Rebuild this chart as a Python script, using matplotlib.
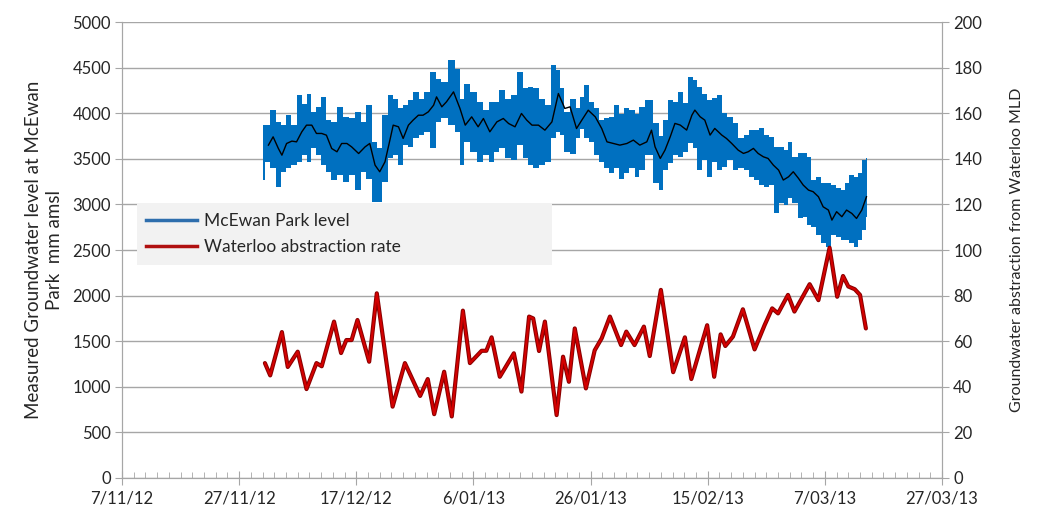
import datetime as dt

import matplotlib
matplotlib.use("Agg")
import matplotlib.pyplot as plt
from matplotlib.lines import Line2D
from matplotlib.ticker import MultipleLocator, FixedLocator

plt.rcParams["font.family"] = ["Lato", "DejaVu Sans"]

START = dt.date(2012, 11, 7)   # day 0 of the x axis

band_day = [24.1, 24.9, 25.8, 26.7, 27.5, 28.4, 29.4, 30.4, 31.2, 31.8, 32.7, 33.5,
            34.5, 35.2, 36.3, 37.2, 38.2, 39.3, 40.4, 41.2, 42.2, 43.2, 44.0, 44.9,
            45.8, 46.6, 47.5, 48.3, 49.2, 50.3, 51.2, 52.0, 53.2, 54.0, 54.9, 56.3,
            57.3, 58.0, 58.9, 60.0, 61.1, 62.3, 63.1, 64.0, 64.8, 66.0, 66.8, 68.0,
            68.8, 69.7, 70.8, 71.7, 72.8, 73.6, 74.5, 75.1, 75.9, 77.1, 77.9, 78.5,
            79.3, 80.2, 81.0, 81.9, 82.8, 83.6, 84.5, 85.3, 86.2, 87.0, 88.0, 88.7,
            89.9, 91.3, 91.9, 92.7, 93.6, 94.4, 95.3, 96.1, 97.0, 97.8, 98.7, 99.5,
            100.4, 101.2, 102.1, 102.9, 103.8, 104.7, 105.8, 106.6, 107.5, 108.4,
            109.2, 110.1, 110.9, 111.8, 112.6, 113.5, 114.0, 114.9, 115.8, 116.6,
            117.2, 118.0, 118.9, 119.7, 120.6, 121.4, 122.3, 123.1, 123.7, 124.6,
            125.4, 126.0, 126.8, 127.2]
band_top = [3869, 3869, 4033, 3905, 3869, 3978, 3869, 4198, 4106, 4216, 4015, 4070,
            4179, 3924, 3905, 4070, 3960, 3942, 4015, 3905, 4088, 3686, 3613, 3978,
            4198, 4161, 4052, 4088, 4143, 4234, 4161, 4234, 4453, 4380, 4344, 4581,
            4490, 4161, 4325, 4234, 4125, 4033, 4125, 4125, 4252, 4161, 4198, 4453,
            4271, 4289, 4271, 4161, 4088, 4526, 4471, 4271, 4015, 4161, 4052, 4179,
            4307, 4125, 4052, 3924, 3942, 3960, 4088, 3996, 4052, 4033, 3996, 4070,
            4143, 3888, 3750, 3924, 4143, 4125, 4234, 4107, 4399, 4362, 4289, 4216,
            4143, 4162, 4198, 3997, 3961, 3888, 3723, 3760, 3815, 3815,
            3833, 3760, 3742, 3632, 3632, 3595, 3687, 3522, 3559, 3559,
            3522, 3267, 3303, 3230, 3230, 3212, 3175, 3157, 3230, 3321,
            3303, 3340, 3486, 3504]
band_bot = [3266, 3467, 3394, 3193, 3357, 3394, 3430, 3467, 3540, 3467, 3613, 3540,
            3430, 3357, 3266, 3321, 3248, 3321, 3157, 3357, 3284, 3029, 3029, 3248,
            3504, 3540, 3430, 3650, 3631, 3723, 3759, 3796, 3613, 3905, 3942, 3869,
            3796, 3431, 3686, 3577, 3467, 3540, 3467, 3577, 3613, 3504, 3485, 3650,
            3504, 3431, 3394, 3431, 3467, 3723, 3796, 3759, 3577, 3558, 3723, 3832,
            3723, 3686, 3540, 3467, 3394, 3339, 3394, 3284, 3339, 3394, 3303, 3376,
            3540, 3230, 3157, 3376, 3449, 3540, 3522, 3577, 3668, 3614, 3376, 3486,
            3303, 3467, 3376, 3413, 3486, 3376, 3394, 3376, 3303, 3267,
            3212, 3194, 3212, 2901, 3011, 2993, 3066, 3011, 2846, 2865,
            2774, 2755, 2664, 2572, 2536, 2664, 2646, 2609, 2609, 2572,
            2536, 2609, 2719, 2865]

# running mean of the level (black line)
mean_day = [25.0, 25.8, 26.7, 27.3, 28.1, 29.0, 29.8, 30.7, 31.5, 32.4, 33.2, 34.1,
            34.9, 35.8, 36.7, 37.5, 38.4, 39.2, 40.4, 41.5, 42.3, 43.2, 44.0, 44.9,
            45.8, 46.3, 47.2, 48.0, 48.9, 49.7, 50.6, 51.4, 52.3, 53.2, 53.7, 54.6,
            55.4, 56.6, 57.7, 58.6, 59.7, 60.8, 61.7, 62.8, 64.0, 65.1, 66.0, 67.1,
            68.2, 69.1, 70.0, 71.1, 72.2, 73.4, 74.5, 75.6, 76.5, 77.6, 78.5, 79.6,
            80.8, 81.9, 82.8, 83.9, 85.0, 86.2, 87.3, 88.4, 89.6, 90.4, 91.0, 91.9,
            92.7, 93.6, 94.4, 95.3, 96.4, 97.3, 97.8, 98.7, 99.5, 100.4, 101.2, 102.4,
            103.2, 104.1, 105.2, 106.1, 106.9, 107.8, 108.6, 109.5, 110.3, 111.2,
            112.1, 112.9, 113.8, 114.6, 115.5, 116.3, 117.2, 118.0, 118.9, 119.7,
            120.6, 121.2, 122.0, 122.9, 123.7, 124.6, 125.4, 126.3, 127.1]
mean_val = [3650, 3741, 3613, 3540, 3668, 3694, 3686, 3796, 3869, 3869, 3778, 3778,
            3759, 3613, 3577, 3668, 3668, 3631, 3558, 3631, 3668, 3431, 3358, 3467,
            3723, 3869, 3851, 3723, 3869, 3924, 3978, 3978, 4015, 4088, 4179, 4070,
            4125, 4234, 4052, 3869, 3960, 3851, 3942, 3796, 3905, 3942, 3887, 3851,
            3997, 3924, 3869, 3869, 3814, 3905, 4216, 4052, 4070, 3832, 3924, 4033,
            3960, 3832, 3686, 3668, 3650, 3668, 3705, 3650, 3686, 3814, 3632, 3504,
            3595, 3742, 3888, 3870, 3815, 3979, 4034, 3961, 3924, 3760, 3833, 3760,
            3723, 3668, 3595, 3559, 3577, 3614, 3559, 3522, 3504, 3431,
            3376, 3267, 3303, 3358, 3285, 3212, 3157, 3139, 3084, 2974,
            2938, 2828, 2920, 2865, 2938, 2901, 2846, 2938, 3084]

# Waterloo abstraction rate (MLD)
red_day = [24.4, 25.3, 27.3, 28.3, 30.0, 31.5, 33.2, 34.1, 36.2, 37.4, 38.3, 39.2,
           40.2, 42.2, 43.5, 46.2, 48.3, 50.9, 52.2, 53.3, 55.0, 56.3, 58.2, 59.4,
           61.4, 62.2, 63.1, 64.5, 66.9, 68.2, 69.5, 70.2, 71.2, 72.2, 74.2, 75.3,
           76.3, 77.3, 79.2, 80.7, 81.9, 83.3, 85.2, 86.1, 87.5, 89.1, 90.1, 92.0,
           94.1, 96.1, 97.2, 99.9, 101.1, 102.2, 103.0, 104.3, 106.0, 108.0, 109.7,
           111.0, 112.0, 113.7, 114.8, 117.4, 118.9, 120.8, 122.1, 123.1, 124.0,
           125.1, 126.0, 127.0]
red_val = [50.4, 45, 64, 48.7, 55.4, 39, 50.4, 49, 68.6, 54.8, 60.5, 60.5,
           69.3, 51, 81, 31.3, 50.4, 36, 43.4, 28, 46.6, 27, 73.4, 50.4,
           55.8, 55.8, 61.7, 44.4, 54.7, 37.9, 70.8, 70, 55.7, 68.6, 27.6, 53.2,
           42.2, 65.6, 39.3, 56, 61.3, 70.8, 58.3, 64.2, 58.3, 66.4, 53.5, 82.5,
           46.4, 61.7, 43.4, 67, 44.4, 63, 57.9, 62, 74, 56.4, 67,
           74.4, 72.2, 80.3, 73, 85, 78, 101, 79.5, 88.6, 84,
           82.8, 80.3, 65.6]

BLUE = "#0070c0"
RED = "#d40000"
GRID = "#a6a6a6"
TXT = "#262626"

fig = plt.figure(figsize=(10.4, 5.19), dpi=100)
ax = fig.add_axes([0.1173, 0.079, 0.7885, 0.8786])
ax2 = ax.twinx()

ax.fill_between(band_day, band_bot, band_top, step="mid", color=BLUE, lw=0, zorder=2)
ax.plot(mean_day, mean_val, color="black", lw=1.0, zorder=3)

ax2.plot(red_day, red_val, color="#8a0000", lw=3.0, solid_joinstyle="round",
         solid_capstyle="round", zorder=3)
ax2.plot(red_day, red_val, color=RED, lw=1.5, solid_joinstyle="round",
         solid_capstyle="round", zorder=4)

# axes / ticks
ax.set_xlim(0, 140)
ax.set_ylim(0, 5000)
ax2.set_ylim(0, 200)
ax.yaxis.set_major_locator(MultipleLocator(500))
ax2.yaxis.set_major_locator(MultipleLocator(20))
ax.xaxis.set_major_locator(FixedLocator(range(0, 141, 20)))
ax.xaxis.set_minor_locator(MultipleLocator(2))
labels = []
for d in range(0, 141, 20):
    t = START + dt.timedelta(days=d)
    labels.append(f"{t.day}/{t.month:02d}/{t.year % 100:02d}")
ax.set_xticklabels(labels)

ax.grid(axis="y", color=GRID, lw=1.0)
ax.set_axisbelow(True)
for a in (ax, ax2):
    a.spines["top"].set_visible(False)
    for s in ("left", "right", "bottom"):
        a.spines[s].set_color(GRID)
ax.tick_params(axis="x", which="major", direction="inout", length=10, color=GRID,
               labelsize=12, labelcolor=TXT, pad=4)
ax.tick_params(axis="x", which="minor", direction="in", length=4, color=GRID)
ax.tick_params(axis="y", length=5, color=GRID, labelsize=12, labelcolor=TXT, pad=3)
ax2.tick_params(axis="y", length=5, color=GRID, labelsize=12, labelcolor=TXT, pad=3)

ax.set_ylabel("Measured Groundwater level at McEwan\nPark  mm amsl", fontsize=13.5,
              color=TXT, linespacing=1.3)
ax.yaxis.set_label_coords(-0.072, 0.5)
ax2.set_ylabel("Groundwater abstraction from Waterloo MLD", fontsize=11.5, color=TXT)
ax2.yaxis.set_label_coords(1.083, 0.5)

handles = [Line2D([], [], color="#2e6ead", lw=2.5),
           Line2D([], [], color="#b01010", lw=2.5)]
leg = ax.legend(handles, ["McEwan Park level", "Waterloo abstraction rate"],
                loc="upper left", bbox_to_anchor=(0.018, 0.467, 0.506, 0.136),
                mode="expand", fontsize=12.5, frameon=True, fancybox=False,
                facecolor="#f2f2f2", edgecolor="none", framealpha=1,
                handlelength=2.9, handletextpad=0.4, borderpad=0.55,
                labelspacing=0.6, borderaxespad=0)
leg._legend_box.align = "left"
for t in leg.get_texts():
    t.set_color(TXT)
leg.set_zorder(1)

fig.savefig("out.png", dpi=100)
